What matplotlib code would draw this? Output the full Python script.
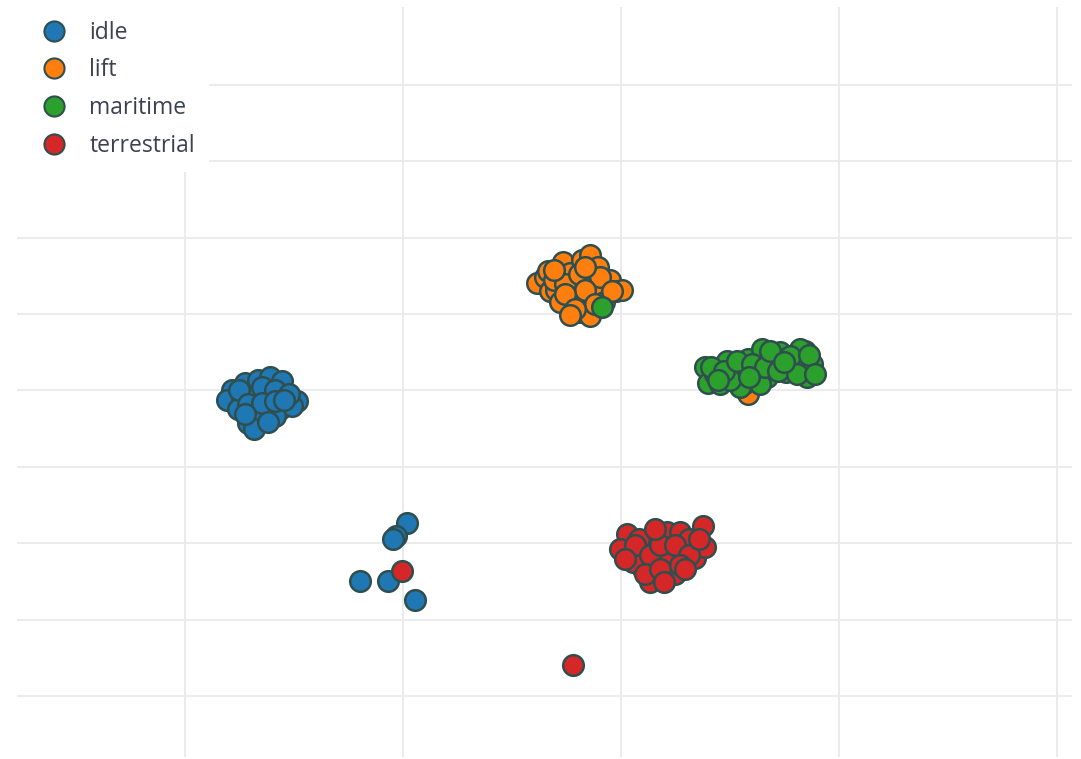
import matplotlib
matplotlib.use("Agg")
import matplotlib.pyplot as plt
from matplotlib.lines import Line2D

# t-SNE style embedding of motion categories
categories = ["idle", "lift", "maritime", "terrestrial"]
colors = ["#1f77b4", "#ff7f0e", "#2ca02c", "#d62728"]

idle_x = [-35.7, -34.5, -33.3, -32.2, -31.1, -36.1, -34.8, -33.5, -32.2, -30.8,
          -29.7, -35.1, -33.9, -32.6, -31.3, -30.2, -34.2, -32.9, -33.7, -31.7,
          -35.0, -32.9, -31.7, -30.4, -34.2, -32.9, -31.7, -34.5, -32.4, -30.9,
          -23.9, -21.4, -18.9, -19.6, -20.6, -20.9]
idle_y = [0.1, 1.0, 1.4, 1.7, 1.2, -1.2, -0.9, -0.7, -0.4, -0.7,
          -1.4, -2.5, -2.7, -2.5, -2.4, -2.1, -4.3, -3.8, -5.1, -3.3,
          0.1, 0.4, 0.1, -0.5, -1.8, -1.6, -1.4, -3.1, -4.1, -1.2,
          -24.9, -24.9, -27.5, -17.3, -19.1, -19.5]

lift_x = [-7.7, -7.0, -6.5, -5.9, -5.3, -4.7, -3.6, -2.8, -2.1, -2.7, -1.0,
          -0.4, -4.9, -3.6, -2.2, -3.8, -2.8, -4.2, -1.5, -5.6, 0.1, -6.7,
          -6.1, -5.1, -3.8, -1.9, -3.3, -5.1, -2.4, -4.2, -0.8, -6.1, -3.3, -4.7,
          11.7]
lift_y = [14.1, 14.8, 13.0, 13.2, 16.8, 15.4, 17.1, 17.7, 16.2, 14.1, 14.5,
          13.0, 11.9, 11.5, 12.8, 10.2, 9.8, 13.5, 11.6, 11.6, 13.2, 15.6,
          14.5, 13.9, 15.2, 14.8, 13.2, 12.6, 11.3, 10.6, 13.0, 15.8, 16.1, 9.9,
          -0.5]

maritime_x = [7.7, 8.0, 8.6, 9.7, 9.1, 10.5, 11.7, 11.4, 10.9, 12.3, 13.0,
              13.4, 14.1, 14.6, 15.2, 16.0, 16.9, 17.1, 17.5, 16.4, 12.8, 10.0,
              8.3, 9.5, 10.7, 12.0, 13.2, 14.4, 15.5, 16.2, 13.7, 8.9, 11.8, 15.0,
              17.3, 17.8, -1.7]
maritime_y = [3.1, 1.0, 2.1, 3.8, 0.8, 2.7, 4.1, 1.0, 0.4, 2.5, 5.4,
              1.8, 3.8, 5.0, 2.4, 3.8, 5.1, 1.8, 3.4, 5.4, 0.8, 1.4,
              3.0, 2.5, 3.8, 3.4, 3.0, 2.5, 4.5, 2.1, 5.1, 1.4, 1.7, 3.7,
              4.7, 2.1, 10.9]

terrestrial_x = [0.6, 2.0, 3.1, 4.2, 5.4, 5.6, 7.5, 2.0, 4.5, 7.2, 3.3,
                 -0.1, 1.1, 6.3, 4.0, 2.7, 6.8, 1.7, 5.0, 7.7,
                 1.3, 2.7, 3.6, 5.0, 6.3, 2.2, 3.6, 5.4, 7.2, 0.4, 4.0, 5.9, 3.1,
                 -20.1, -4.4]
terrestrial_y = [-18.8, -20.8, -19.5, -18.6, -18.6, -20.8, -17.8, -23.4, -23.0, -20.8, -24.3,
                 -20.8, -22.5, -19.5, -21.5, -25.1, -21.9, -19.5, -24.1, -20.5,
                 -20.2, -21.5, -20.2, -20.2, -21.5, -24.1, -23.4, -22.8, -19.5, -22.1,
                 -25.1, -23.4, -18.2,
                 -23.7, -36.0]

series = [(idle_x, idle_y), (lift_x, lift_y), (maritime_x, maritime_y),
          (terrestrial_x, terrestrial_y)]

edge = "#2F4F4F"
grid_color = "#ebebeb"
text_color = "#3a4150"

fig = plt.figure(figsize=(10.81, 7.59), dpi=100)
W, H = 1081, 759
ax = fig.add_axes([17 / W, 1 - 757 / H, (1072 - 17) / W, (757 - 7) / H])

for (xs, ys), c in zip(series, colors):
    ax.scatter(xs, ys, s=220, c=c, edgecolors=edge, linewidths=1.8, zorder=3)

ax.set_xlim(-55.4, 41.4)
ax.set_ylim(-48.0, 50.2)
ax.set_xticks([-40, -20, 0, 20, 40])
ax.set_yticks(range(-40, 41, 10))
ax.grid(True, color=grid_color, linewidth=1.5, zorder=0)
ax.set_axisbelow(True)
ax.tick_params(left=False, bottom=False, labelleft=False, labelbottom=False)
for sp in ax.spines.values():
    sp.set_visible(False)

handles = [Line2D([], [], linestyle="none", marker="o", markersize=14.5,
                  markerfacecolor=c, markeredgecolor=edge, markeredgewidth=1.5)
           for c in colors]
leg = ax.legend(handles, categories, loc="upper left",
                bbox_to_anchor=(17 / W, 1 - 7 / H), bbox_transform=fig.transFigure,
                frameon=True, fancybox=False, framealpha=1.0, edgecolor="none",
                facecolor="white", borderpad=0.6, handlelength=2.0,
                handletextpad=0.55, labelspacing=0.6, borderaxespad=0,
                prop={"family": "Open Sans", "size": 16.5})
for t in leg.get_texts():
    t.set_color(text_color)

fig.savefig("out.png", dpi=100, facecolor="white")
